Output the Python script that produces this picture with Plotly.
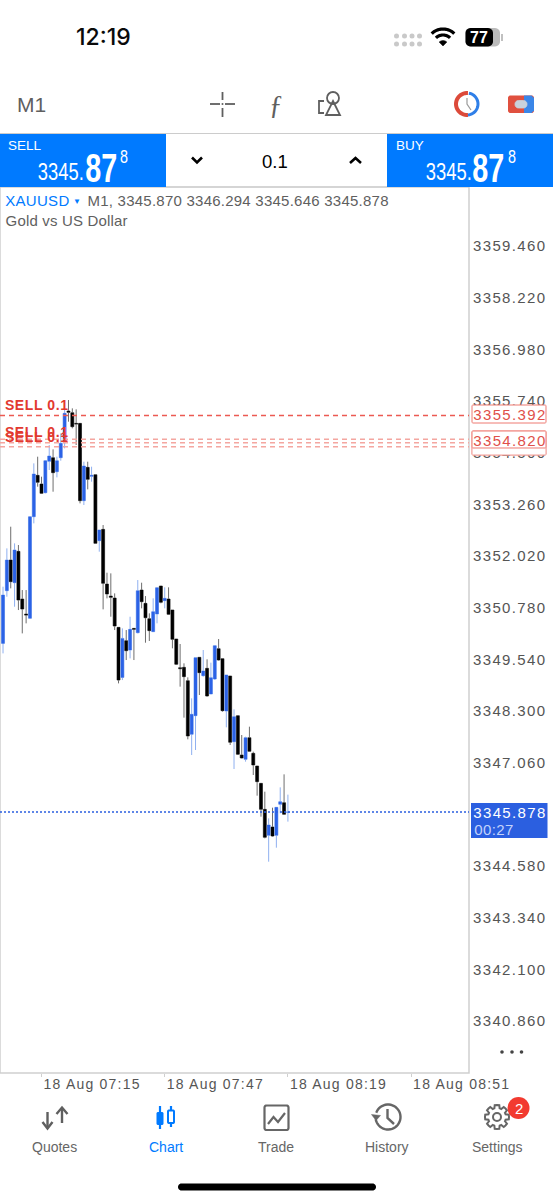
import math
import pandas as pd
import plotly.graph_objects as go

# ---------- data ----------
opens = [3349.924,3351.188,3351.924,3351.380,3352.132,3350.988,3350.628,3350.524,3352.964,3353.956,
         3353.748,3353.540,3354.292,3354.380,3354.044,3354.380,3354.740,3355.500,3355.460,3355.204,
         3355.204,3353.348,3354.148,3353.932,3353.972,3352.388,3352.660,3351.348,3351.060,3351.012,
         3350.308,3349.108,3349.988,3349.764,3350.284,3350.180,3351.204,3350.884,3350.517,3350.205,
         3350.629,3351.301,3350.949,3350.989,3350.725,3350.029,3349.341,3349.349,3349.029,3347.741,
         3348.189,3349.589,3349.149,3349.325,3348.709,3349.069,3349.797,3349.557,3348.301,3349.141,
         3347.565,3348.189,3347.245,3347.141,3347.661,3347.285,3346.981,3346.565,3345.941,3345.317,
         3345.517,3345.317,3346.061,3346.101,3345.870]
highs = [3351.284,3352.204,3352.724,3352.324,3352.284,3351.204,3351.204,3352.964,3354.244,3354.404,
         3353.924,3354.324,3354.684,3354.580,3354.404,3354.964,3355.524,3355.764,3355.564,3355.540,
         3355.204,3354.284,3354.284,3354.164,3353.972,3352.644,3352.764,3351.620,3351.604,3351.124,
         3350.308,3350.284,3350.244,3350.564,3350.284,3351.444,3351.380,3351.060,3350.645,3351.005,
         3351.261,3351.301,3351.269,3351.269,3350.725,3350.029,3349.909,3349.445,3349.109,3348.605,
         3349.581,3349.589,3349.765,3349.541,3349.461,3349.869,3350.029,3349.557,3349.165,3349.141,
         3348.341,3348.189,3347.725,3347.685,3347.925,3347.325,3346.981,3346.565,3346.365,3345.725,
         3345.981,3345.989,3346.469,3346.781,3346.294]
lows = [3349.684,3351.044,3351.244,3350.804,3350.724,3350.164,3350.404,3350.524,3352.804,3353.684,
        3353.508,3353.524,3354.084,3353.564,3353.908,3354.308,3354.604,3355.244,3355.084,3354.684,
        3353.284,3353.244,3353.620,3353.804,3352.324,3352.124,3350.740,3351.004,3350.564,3350.244,
        3348.964,3349.044,3349.524,3349.564,3349.524,3350.164,3350.764,3349.940,3349.981,3350.205,
        3350.405,3350.885,3350.765,3350.605,3349.805,3349.405,3348.885,3348.141,3347.621,3347.245,
        3347.365,3348.685,3349.125,3348.645,3348.709,3349.045,3349.509,3348.285,3347.909,3347.485,
        3346.909,3347.245,3347.165,3347.085,3347.325,3346.765,3346.269,3345.765,3345.245,3344.685,
        3345.285,3345.021,3345.845,3345.821,3345.646]
closes = [3351.084,3351.924,3351.404,3352.164,3350.964,3350.748,3350.604,3352.964,3353.988,3353.788,
          3353.524,3354.308,3354.420,3354.020,3354.308,3354.724,3355.444,3355.468,3355.124,3355.188,
          3353.348,3354.180,3353.860,3353.956,3352.324,3352.644,3351.364,3351.108,3351.028,3350.340,
          3349.044,3350.044,3349.748,3350.260,3350.260,3351.188,3350.924,3350.540,3350.229,3350.685,
          3351.261,3350.909,3351.005,3350.621,3350.021,3349.421,3349.317,3349.125,3347.701,3348.221,
          3349.581,3349.221,3349.261,3348.661,3349.101,3349.869,3349.525,3348.309,3349.165,3347.549,
          3348.165,3347.261,3347.173,3347.661,3347.333,3347.005,3346.605,3345.941,3345.269,3345.565,
          3345.301,3345.989,3346.125,3345.821,3345.878]
price_ticks = [3359.46,3358.22,3356.98,3355.74,3354.50,3353.26,3352.02,3350.78,
               3349.54,3348.30,3347.06,3345.82,3344.58,3343.34,3342.10,3340.86]
time_ticks = ["2025-08-18 07:15","2025-08-18 07:47","2025-08-18 08:19","2025-08-18 08:51"]
time_labels = ["18 Aug 07:15","18 Aug 07:47","18 Aug 08:19","18 Aug 08:51"]
sell_levels = [3355.392,3354.820,3354.740,3354.640]
sell_texts = ["3355.392","3354.820"]
current_price = 3345.878
legend_ohlc = "M1, 3345.870 3346.294 3345.646 3345.878"

times = pd.date_range("2025-08-18 07:05", periods=len(opens), freq="min")

# ---------- page geometry ----------
W, H = 553, 1200
PLOT_R, PLOT_T, PLOT_B = 469, 187, 1073
BLUE, CANDLE_BLUE, GREY, LINE = "#007aff", "#2b62e6", "#5f5f5f", "#cfcfcf"
RED = "#e2392f"
SANS = "Liberation Sans"


def X(p):
    return p / W


def Y(p):
    return 1 - p / H


shapes, notes = [], []


def path(points, closed=False, color=GREY, width=2, fill=None, layer="above"):
    d = "M " + " L ".join(f"{X(a):.5f},{Y(b):.5f}" for a, b in points) + (" Z" if closed else "")
    shapes.append(dict(type="path", xref="paper", yref="paper", path=d, layer=layer,
                       line=dict(color=color, width=width),
                       fillcolor=fill if fill else "rgba(0,0,0,0)"))


def rect(x0, y0, x1, y1, fill=None, color="rgba(0,0,0,0)", width=0, layer="above"):
    shapes.append(dict(type="rect", xref="paper", yref="paper", x0=X(x0), x1=X(x1), y0=Y(y1), y1=Y(y0),
                       fillcolor=fill if fill else "rgba(0,0,0,0)", layer=layer,
                       line=dict(color=color, width=width)))


def circle(cx, cy, r, fill=None, color="rgba(0,0,0,0)", width=0):
    shapes.append(dict(type="circle", xref="paper", yref="paper", x0=X(cx - r), x1=X(cx + r),
                       y0=Y(cy + r), y1=Y(cy - r), layer="above",
                       fillcolor=fill if fill else "rgba(0,0,0,0)", line=dict(color=color, width=width)))


def arc(cx, cy, r, a0, a1, n=24):
    return [(cx + r * math.cos(math.radians(a0 + (a1 - a0) * i / n)),
             cy - r * math.sin(math.radians(a0 + (a1 - a0) * i / n))) for i in range(n + 1)]


def rrect(x0, y0, x1, y1, r):
    return (arc(x1 - r, y0 + r, r, 90, 0, 6) + arc(x1 - r, y1 - r, r, 0, -90, 6)
            + arc(x0 + r, y1 - r, r, -90, -180, 6) + arc(x0 + r, y0 + r, r, 180, 90, 6))


def text(x, y, s, size=15, color=GREY, anchor="left", font=SANS, weight=None):
    f = dict(size=size, color=color, family=font)
    if weight:
        f["weight"] = weight
    notes.append(dict(x=X(x), y=Y(y), xref="paper", yref="paper", text=s, showarrow=False, font=f,
                      xanchor=anchor, yanchor="middle", borderpad=0, borderwidth=0))


# ---------- figure ----------
fig = go.Figure()
# wick layer
fig.add_trace(go.Candlestick(x=times, open=opens, high=highs, low=lows, close=closes, hoverinfo="skip",
                             increasing=dict(line=dict(color="#8fb0f0", width=1), fillcolor="rgba(0,0,0,0)"),
                             decreasing=dict(line=dict(color="#6e6e6e", width=1), fillcolor="rgba(0,0,0,0)"),
                             whiskerwidth=0, showlegend=False))
# body layer
fig.add_trace(go.Candlestick(x=times, open=opens, high=opens, low=closes, close=closes, hoverinfo="skip",
                             increasing=dict(line=dict(color=CANDLE_BLUE, width=0), fillcolor=CANDLE_BLUE),
                             decreasing=dict(line=dict(color="#000000", width=0), fillcolor="#000000"),
                             showlegend=False))

# plot frame
rect(0, PLOT_T, PLOT_R, PLOT_B, color=LINE, width=1.5, layer="below")

# order lines and current price
for i, lv in enumerate(sell_levels):
    shapes.append(dict(type="line", xref="paper", yref="y", x0=0, x1=X(PLOT_R), y0=lv, y1=lv, layer="above",
                       line=dict(color="#ec5a52" if i == 0 else "#f4a6a0", width=1.5, dash="5px,4px")))
shapes.append(dict(type="line", xref="paper", yref="y", x0=0, x1=X(PLOT_R), y0=current_price, y1=current_price,
                   layer="above", line=dict(color="#2b5fe0", width=1.5, dash="2px,2px")))

# price flags on the axis
path(rrect(472, 431, 546, 455, 1), True, "#f2a09a", 1, "#ffffff")
path(rrect(472, 447, 546, 455, 1), True, "#f2a09a", 1, "#ffffff")
path(rrect(472, 405, 546, 423, 1), True, "#ee7a72", 1, "#ffffff")
path(rrect(472, 431, 546, 448, 1), True, "#ee7a72", 1, "#ffffff")
text(509, 414.5, sell_texts[0], 15, "#e0504a", "center")
text(509, 440, sell_texts[1], 15, "#e0504a", "center")
rect(471, 803, 547.5, 838, fill="#2b5fe0")
text(509, 812, f"{current_price:.3f}", 15, "#ffffff", "center")
text(493.5, 829, "00:27", 15, "#c3d3fb", "center")

# SELL tags on the chart
for ty in (405, 432, 437):
    text(36.5, ty, "SELL 0.1", 14, RED, "center", SANS, "bold")

# legend text
text(37, 201, "XAUUSD", 15, BLUE, "center")
text(73, 201.5, "▼", 8, BLUE)
text(237.5, 201, legend_ohlc, 15, GREY, "center")
text(66, 220, "Gold vs US Dollar", 15, GREY, "center")

# ----- status bar -----
text(76, 37, "12:19", 23, "#0a0a0a", "left", "Inter", 500)
for cx in (396.5, 404.5, 412, 419.5):
    for cy in (36, 44):
        circle(cx, cy, 2.5, fill="#c9c9c9")
path(arc(443, 45, 16, 135, 45), False, "#000000", 3.2)
path(arc(443, 45, 10, 135, 45), False, "#000000", 3.2)
path([(443, 46)] + arc(443, 46, 5.5, 135, 45, 6), True, "#000000", 0.5, "#000000")
path(rrect(465.5, 28, 500, 46.5, 5), True, "#bbbbbb", 0, "#bbbbbb")
path(rrect(465.5, 28, 493, 46.5, 5), True, "#000000", 0, "#000000")
rect(501, 34, 503, 41, fill="#c0c0c0")
text(479, 37.5, "77", 16, "#ffffff", "center", SANS, "bold")

# ----- toolbar -----
text(17, 104, "M1", 21, GREY, "left", SANS, 500)
for seg in [[(210, 104), (220, 104)], [(225, 104), (235, 104)], [(222.5, 92), (222.5, 100)], [(222.5, 108), (222.5, 117)]]:
    path(seg, False, GREY, 1.8)
circle(222.5, 104, 1, fill=GREY)
text(276, 104, "ƒ", 28, GREY, "center", "Liberation Serif")
circle(333, 98, 6, color=GREY, width=1.8)
path([(333, 101), (340, 115), (326, 115)], True, GREY, 1.8)
path([(324, 101), (319, 101), (319, 113), (324, 113)], False, GREY, 1.8)
path(arc(467, 104, 11, 85, 275), False, "#dc4a3a", 4)
path(arc(467, 104, 11, 80, -85), False, "#2f7fe8", 3)
path([(467, 98), (467, 104), (471, 110)], False, "#9a9a9a", 1.2)
path(rrect(508, 95.5, 534, 113, 2.5), True, "#e0503f", 0, "#e0503f")
path([(524, 95.5), (531.5, 95.5), (534, 98), (534, 110.5), (531.5, 113), (524, 113)], True, "#3a86e8", 0, "#3a86e8")
path(rrect(515, 100.5, 527, 108, 3.5), True, "#c8d2dc", 0.8, "#c8d2dc")

# ----- trade banner -----
rect(0, 133, W, 134, fill="#cccccc")
rect(0, 134, 166, 187, fill=BLUE)
rect(387, 134, W, 187, fill=BLUE)
rect(166, 186.5, 387, 187.5, fill="#d0d0d0")
for off, label in ((0, "SELL"), (387.5, "BUY")):
    text(8 + off, 145.5, label, 13.5, "#ffffff")
    text(61 + off, 172, "3345.", 23, "#ffffff", "center")
    text(101 + off, 168, "87", 40, "#ffffff", "center", SANS, "bold")
    text(124 + off, 157, "8", 18, "#ffffff", "center")
path([(192, 157.5), (197, 162.5), (202, 157.5)], False, "#000000", 2.6)
path([(350, 163), (355.5, 158), (361, 163)], False, "#000000", 2.6)
text(275, 161, "0.1", 18.5, "#000000", "center")

# ----- more dots -----
for cx in (502, 512, 521.5):
    circle(cx, 1052, 1.8, fill="#444444")

# ----- bottom nav -----
for cx, label in ((54.5, "Quotes"), (165.5, "Chart"), (276, "Trade"), (387, "History"), (497, "Settings")):
    text(cx, 1147, label, 14, BLUE if label == "Chart" else "#666666", "center")
path([(47.5, 1112), (47.5, 1128)], False, GREY, 2.4)
path([(42.5, 1122), (47.5, 1128.5), (52.5, 1122)], False, GREY, 2.4)
path([(62, 1123), (62, 1108)], False, GREY, 2.4)
path([(56.5, 1114), (62, 1107.5), (67.5, 1114)], False, GREY, 2.4)
path([(160, 1106), (160, 1129)], False, BLUE, 2.2)
path(rrect(156.5, 1112, 163.5, 1125, 1.5), True, BLUE, 0, BLUE)
path([(171, 1106), (171, 1127)], False, BLUE, 2.2)
path(rrect(168, 1110.5, 174, 1123, 1), True, BLUE, 2, "#ffffff")
path(rrect(264.5, 1105.5, 288.5, 1130, 2), True, "#666666", 2.2)
path([(268, 1124), (273.5, 1117), (278, 1122), (285, 1113)], False, "#666666", 2.2)
path(arc(388, 1117, 12.5, 160, -170, 40), False, "#666666", 2.4)
path([(371.5, 1114.5), (376, 1120.5), (380.5, 1115.5)], True, "#666666", 0.5, "#666666")
path([(387.5, 1109), (387.5, 1118), (394, 1124)], False, "#666666", 2.4)
gear = []
for k in range(8):
    a = k * 45
    gear += arc(497, 1117, 12, a - 11, a + 11, 2) + arc(497, 1117, 9, a + 17, a + 28, 2)
path(gear, True, "#666666", 2, "#ffffff")
circle(497, 1117, 4, color="#666666", width=2)
circle(518.5, 1108, 11, fill="#f23a30")
text(518.5, 1108.5, "2", 15, "#ffffff", "center")
path(rrect(178, 1183.5, 376, 1190.5, 3.5), True, "#000000", 0, "#000000")

# ----- axes -----
fig.update_layout(
    width=W, height=H, autosize=False, margin=dict(l=0, r=0, t=0, b=0, autoexpand=False),
    paper_bgcolor="#ffffff", plot_bgcolor="#ffffff", showlegend=False,
    shapes=shapes, annotations=notes, boxgap=0.22, boxgroupgap=0,
    xaxis=dict(type="date", domain=[0, X(PLOT_R)], range=["2025-08-18 07:04:13", "2025-08-18 09:06:02"],
               rangeslider=dict(visible=False), showgrid=False, zeroline=False, showline=False, automargin=False,
               tickvals=time_ticks, ticktext=time_labels, ticks="outside", ticklen=3, tickcolor=LINE,
               tickfont=dict(family=SANS, size=14, color="#555555"), ticklabelshift=50, ticklabelstandoff=-5,
               fixedrange=True),
    yaxis=dict(domain=[Y(PLOT_B), Y(PLOT_T)], side="right", anchor="x", automargin=False,
               range=[3339.614, 3360.876], showgrid=False, zeroline=False, showline=False,
               tickvals=price_ticks, ticktext=[f"{v:.3f}" for v in price_ticks], ticks="", ticklabelstandoff=3,
               tickfont=dict(family=SANS, size=15, color="#555555"), fixedrange=True),
)

# Native SVG text fitting: the app's fonts are wider (prices, dates) or narrower (big quote digits)
FIT_JS = """
document.body.style.margin='0';document.body.style.overflow='hidden';
document.querySelectorAll('.ytick text').forEach(function(t){t.setAttribute('textLength','72');});
document.querySelectorAll('.xtick text').forEach(function(t){t.setAttribute('textLength','96');});
document.querySelectorAll('.annotation-text').forEach(function(t){
  var s=t.textContent,n=0,g=false;
  if(/^\\d{4}\\.\\d{3}$/.test(s)){n=72;}
  else if(s==='00:27'){n=39;}
  else if(s==='3345.'){n=46;g=true;}
  else if(s==='87'){n=32;g=true;}
  else if(s==='8'){n=8;g=true;}
  else if(s==='SELL 0.1'){n=63;}
  else if(s.indexOf('M1,')===0){n=301;}
  else if(s==='Gold vs US Dollar'){n=122;}
  else if(s==='XAUUSD'){n=64;}
  if(n){t.setAttribute('textLength',n);if(g){t.setAttribute('lengthAdjust','spacingAndGlyphs');}}
});
"""
fig.write_html("out.html", config=dict(displayModeBar=False), post_script=FIT_JS)
